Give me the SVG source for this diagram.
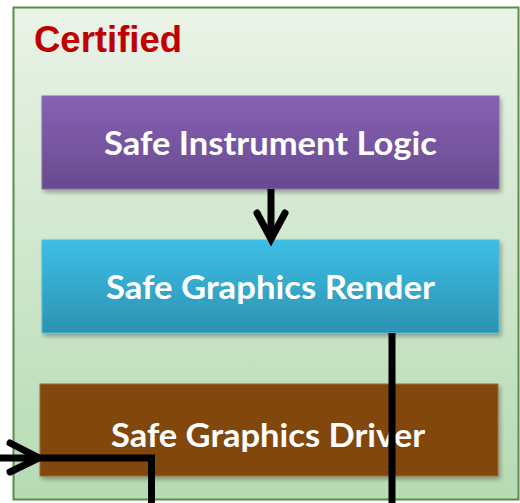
<svg xmlns="http://www.w3.org/2000/svg" width="520" height="503" viewBox="0 0 520 503">
  <defs>
    <linearGradient id="gContainer" x1="0" y1="0" x2="0" y2="1">
      <stop offset="0" stop-color="#eaf3e7"/>
      <stop offset="1" stop-color="#b6dbb3"/>
    </linearGradient>
    <linearGradient id="gPurple" x1="0" y1="0" x2="0" y2="1">
      <stop offset="0" stop-color="#8661b5"/>
      <stop offset="1" stop-color="#694a8e"/>
    </linearGradient>
    <linearGradient id="gBlue" x1="0" y1="0" x2="0" y2="1">
      <stop offset="0" stop-color="#3cbfe6"/>
      <stop offset="1" stop-color="#2d92b2"/>
    </linearGradient>
    <filter id="shadow" x="-5%" y="-10%" width="112%" height="130%">
      <feDropShadow dx="2" dy="3" stdDeviation="2" flood-color="#000" flood-opacity="0.3"/>
    </filter>
  </defs>
  <style>
    .box { filter: url(#shadow); stroke-width: 1; }
    .label { font-family: Lato, "Open Sans", "Liberation Sans", sans-serif; font-weight: bold; font-size: 32px; fill: #ffffff; }
    .wire { fill: none; stroke: #000000; stroke-width: 7; }
    .head { fill: none; stroke: #000000; stroke-width: 7; stroke-linecap: round; stroke-linejoin: miter; }
  </style>

  <rect x="0" y="0" width="520" height="503" fill="#ffffff"/>

  <g id="certified">
    <rect x="13.5" y="7.5" width="505" height="492" fill="url(#gContainer)" stroke="#5b8c48" stroke-width="2"/>
    <text x="34" y="52" font-family="'Liberation Sans', Arial, sans-serif" font-weight="bold" font-size="36.5" fill="#c00000">Certified</text>
  </g>

  <g id="safe-instrument-logic">
    <rect class="box" x="42" y="96" width="457" height="93" fill="url(#gPurple)" stroke="#8a6bb0"/>
    <text class="label" x="104" y="155" textLength="333" lengthAdjust="spacingAndGlyphs">Safe Instrument Logic</text>
  </g>

  <g id="safe-graphics-render">
    <rect class="box" x="42" y="240" width="457" height="93" fill="url(#gBlue)" stroke="#4bbde0"/>
    <text class="label" x="106" y="299" textLength="329" lengthAdjust="spacingAndGlyphs">Safe Graphics Render</text>
  </g>

  <g id="safe-graphics-driver">
    <rect class="box" x="40" y="384" width="458" height="92" fill="#82460b" stroke="#9a6a3a"/>
    <text class="label" x="111" y="447" textLength="314" lengthAdjust="spacingAndGlyphs">Safe Graphics Driver</text>
  </g>

  <g id="connectors">
    <!-- logic to render -->
    <path class="wire" d="M271,189 V238"/>
    <path class="head" d="M257,213 L271,239 L285,213"/>
    <!-- render output leaving downward -->
    <path class="wire" d="M392,333 V503"/>
    <!-- external input into driver, routed down -->
    <path class="wire" d="M0,458 H151.5 V503"/>
    <path class="head" d="M10,443 L39,458 L10,472"/>
  </g>
</svg>
